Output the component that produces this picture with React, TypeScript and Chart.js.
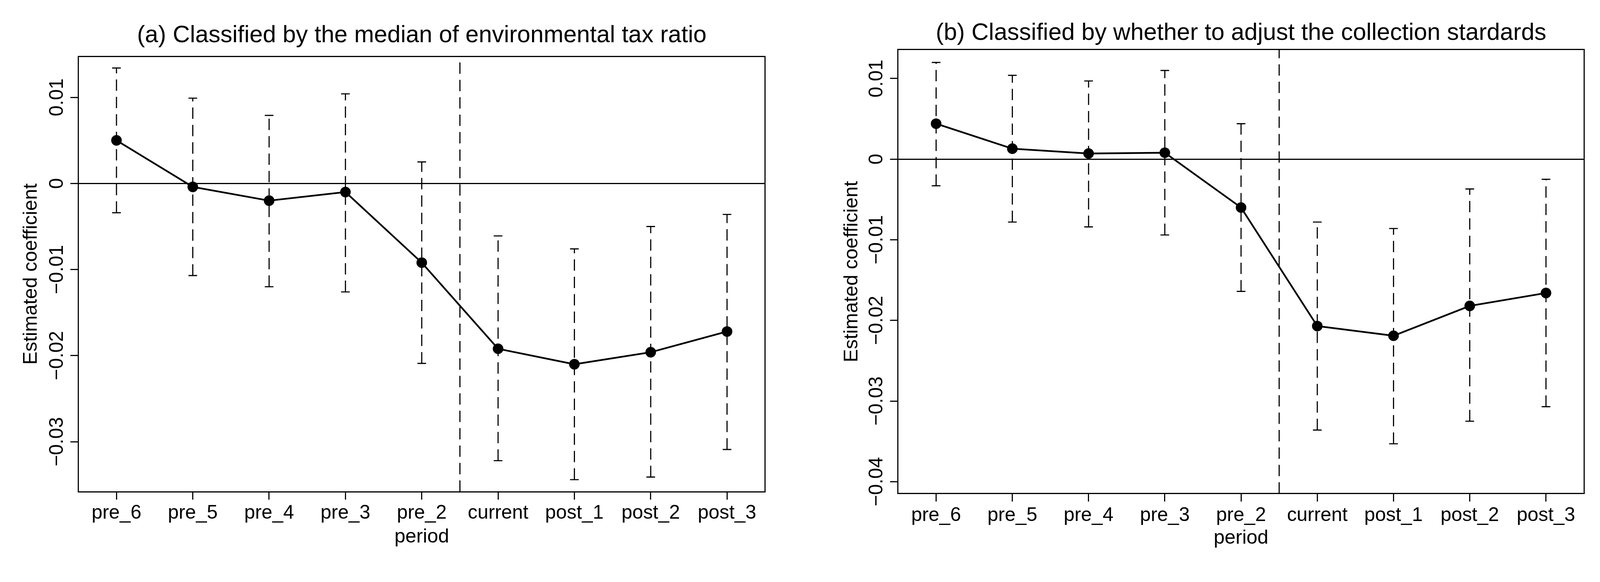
import React, { useEffect, useRef } from 'react';
import { Chart, registerables } from 'chart.js';

Chart.register(...registerables);

const FONT = "'Liberation Sans', Arial, Helvetica, sans-serif";

// x categories
const periods = ['pre_6', 'pre_5', 'pre_4', 'pre_3', 'pre_2', 'current', 'post_1', 'post_2', 'post_3'];

// panel (a)
const titleA = '(a) Classified by the median of environmental tax ratio';
const coefA = [0.0050, -0.0004, -0.0020, -0.0010, -0.0092, -0.0192, -0.0210, -0.0196, -0.0172];
const upperA = [0.0134, 0.0099, 0.0079, 0.0104, 0.0025, -0.0061, -0.0076, -0.0050, -0.0036];
const lowerA = [-0.0034, -0.0107, -0.0120, -0.0126, -0.0209, -0.0322, -0.0344, -0.0341, -0.0309];
const yTicksA = [0.01, 0, -0.01, -0.02, -0.03];
const yTickLabelsA = ['0.01', '0', '\u22120.01', '\u22120.02', '\u22120.03'];
const yRangeA = [-0.0358, 0.01475];

// panel (b)
const titleB = '(b) Classified by whether to adjust the collection stardards';
const coefB = [0.0044, 0.0013, 0.0007, 0.0008, -0.0060, -0.0207, -0.0219, -0.0182, -0.0166];
const upperB = [0.0120, 0.0104, 0.0097, 0.0110, 0.0044, -0.0078, -0.0086, -0.0037, -0.0025];
const lowerB = [-0.0033, -0.0078, -0.0084, -0.0094, -0.0164, -0.0336, -0.0353, -0.0325, -0.0307];
const yTicksB = [0.01, 0, -0.01, -0.02, -0.03, -0.04];
const yTickLabelsB = ['0.01', '0', '\u22120.01', '\u22120.02', '\u22120.03', '\u22120.04'];
const yRangeB = [-0.04148, 0.01359];

// policy line between pre_2 and current
const policyX = 4.5;
const xRange = [-0.5, 8.5];

const TARGET_W = 4229;
const TARGET_H = 1489;

type Layout = {
  left: number; right: number; top: number; bottom: number;
  titlePad: number; yTitlePad: number; xTickPad: number; xTitlePad: number;
};

type PanelProps = {
  k: number;
  width: number; height: number; title: string;
  coef: number[]; upper: number[]; lower: number[];
  yTicks: number[]; yTickLabels: string[]; yRange: number[];
  layout: Layout;
};

function Panel(p: PanelProps) {
  const ref = useRef<HTMLCanvasElement>(null);
  const k = p.k;
  const W = Math.round(p.width * k);
  const H = Math.round(p.height * k);
  useEffect(() => {
    if (!ref.current) return;
    const L = p.layout;
    const black = '#000000';
    const [yMin, yMax] = p.yRange;
    const px = (v: number) => v * k;

    const errorSets: any[] = periods.map((_, i) => ({
      data: [{ x: i, y: p.lower[i] }, { x: i, y: p.upper[i] }],
      borderColor: black,
      borderWidth: px(3),
      borderDash: [px(30), px(16)],
      pointStyle: 'line',
      pointRadius: px(11.5),
      pointBorderWidth: px(3),
      pointBorderColor: black,
      pointBackgroundColor: black,
      tension: 0,
    }));

    const yTickText = {
      id: 'yTickText',
      afterDraw(chart: any) {
        const s = chart.scales.y;
        const ctx = chart.ctx;
        ctx.save();
        ctx.fillStyle = black;
        ctx.font = `${px(51.5)}px ${FONT}`;
        ctx.textAlign = 'center';
        ctx.textBaseline = 'alphabetic';
        const bx = chart.chartArea.left - px(41);
        s.ticks.forEach((t: any) => {
          const idx = p.yTicks.indexOf(t.value);
          const label = idx >= 0 ? p.yTickLabels[idx] : String(t.value);
          const py = s.getPixelForValue(t.value);
          ctx.save();
          ctx.translate(bx, py);
          ctx.rotate(-Math.PI / 2);
          ctx.fillText(label, 0, 0);
          ctx.restore();
        });
        ctx.restore();
      },
    };

    const chart = new Chart(ref.current, {
      type: 'line',
      data: {
        datasets: [
          {
            data: periods.map((_, i) => ({ x: i, y: p.coef[i] })),
            borderColor: black,
            borderWidth: px(4.5),
            pointRadius: px(14),
            pointStyle: 'circle',
            pointBackgroundColor: black,
            pointBorderColor: black,
            pointBorderWidth: 0,
            tension: 0,
          },
          {
            data: [{ x: policyX, y: yMin }, { x: policyX, y: yMax }],
            borderColor: black,
            borderWidth: px(3),
            borderDash: [px(30), px(16)],
            pointRadius: 0,
            tension: 0,
          },
          ...errorSets,
        ] as any,
      },
      options: {
        animation: false,
        responsive: false,
        events: [],
        layout: { padding: 0 },
        plugins: {
          legend: { display: false },
          tooltip: { enabled: false },
          title: { display: false },
        },
        scales: {
          x: {
            type: 'linear',
            position: 'bottom',
            min: xRange[0],
            max: xRange[1],
            afterBuildTicks: (s: any) => { s.ticks = periods.map((_, i) => ({ value: i })); },
            afterFit: (s: any) => { s.height = px(L.bottom); },
            ticks: {
              autoSkip: false,
              maxRotation: 0,
              minRotation: 0,
              padding: px(L.xTickPad),
              color: black,
              font: { family: FONT, size: px(51.5), lineHeight: 1 },
              callback: (v: any) => periods[v] ?? '',
            },
            grid: {
              drawOnChartArea: false,
              drawTicks: true,
              tickLength: px(21),
              tickWidth: px(3),
              tickColor: black,
              color: black,
              lineWidth: px(3),
            },
            border: { display: true, color: black, width: px(3) },
            title: {
              display: true,
              text: 'period',
              color: black,
              font: { family: FONT, size: px(52), lineHeight: 1 },
              padding: { top: 0, bottom: px(L.xTitlePad) },
            },
          },
          x2: {
            type: 'linear',
            position: 'top',
            min: xRange[0],
            max: xRange[1],
            afterFit: (s: any) => { s.height = px(L.top); },
            ticks: { display: false },
            grid: { display: false, drawTicks: false },
            border: { display: true, color: black, width: px(3) },
            title: {
              display: true,
              text: p.title,
              color: black,
              font: { family: FONT, size: px(63), lineHeight: 1 },
              padding: { top: px(L.titlePad), bottom: 0 },
            },
          },
          y: {
            type: 'linear',
            position: 'left',
            min: yMin,
            max: yMax,
            afterBuildTicks: (s: any) => { s.ticks = p.yTicks.map((v) => ({ value: v })); },
            afterFit: (s: any) => { s.width = px(L.left); },
            ticks: { display: false },
            grid: {
              drawOnChartArea: true,
              drawTicks: true,
              tickLength: px(21),
              tickWidth: px(3),
              tickColor: black,
              lineWidth: px(3),
              color: (c: any) => (c.tick && c.tick.value === 0 ? black : 'rgba(0,0,0,0)'),
            },
            border: { display: true, color: black, width: px(3) },
            title: {
              display: true,
              text: 'Estimated coefficient',
              color: black,
              font: { family: FONT, size: px(52), lineHeight: 1 },
              padding: { top: px(L.yTitlePad), bottom: 0 },
            },
          },
          y2: {
            type: 'linear',
            position: 'right',
            min: yMin,
            max: yMax,
            afterFit: (s: any) => { s.width = px(L.right); },
            ticks: { display: false },
            grid: { display: false, drawTicks: false },
            border: { display: true, color: black, width: px(3) },
          },
        },
      } as any,
      plugins: [yTickText],
    });
    return () => chart.destroy();
  }, []);

  return (
    <canvas
      ref={ref}
      width={W}
      height={H}
      style={{ display: 'block', width: W, height: H, flex: 'none' }}
    />
  );
}

export default function App() {
  const vw = typeof window !== 'undefined' ? window.innerWidth : TARGET_W;
  const vh = typeof window !== 'undefined' ? window.innerHeight : TARGET_H;
  const k = Math.min(1, vw / TARGET_W, vh / TARGET_H);
  return (
    <div
      style={{
        position: 'fixed',
        left: 0,
        top: 0,
        width: Math.round(TARGET_W * k),
        height: Math.round(TARGET_H * k),
        background: '#ffffff',
        display: 'flex',
        flexDirection: 'row',
        overflow: 'hidden',
      }}
    >
      <Panel
        k={k}
        width={2114}
        height={1489}
        title={titleA}
        coef={coefA}
        upper={upperA}
        lower={lowerA}
        yTicks={yTicksA}
        yTickLabels={yTickLabelsA}
        yRange={yRangeA}
        layout={{ left: 207, right: 92, top: 149, bottom: 190, titlePad: 63, yTitlePad: 57, xTickPad: 10, xTitlePad: 44.5 }}
      />
      <Panel
        k={k}
        width={2115}
        height={1489}
        title={titleB}
        coef={coefB}
        upper={upperB}
        lower={lowerB}
        yTicks={yTicksB}
        yTickLabels={yTickLabelsB}
        yRange={yRangeB}
        layout={{ left: 259, right: 42, top: 131, bottom: 185, titlePad: 56, yTitlePad: 111, xTickPad: 12, xTitlePad: 41 }}
      />
    </div>
  );
}
